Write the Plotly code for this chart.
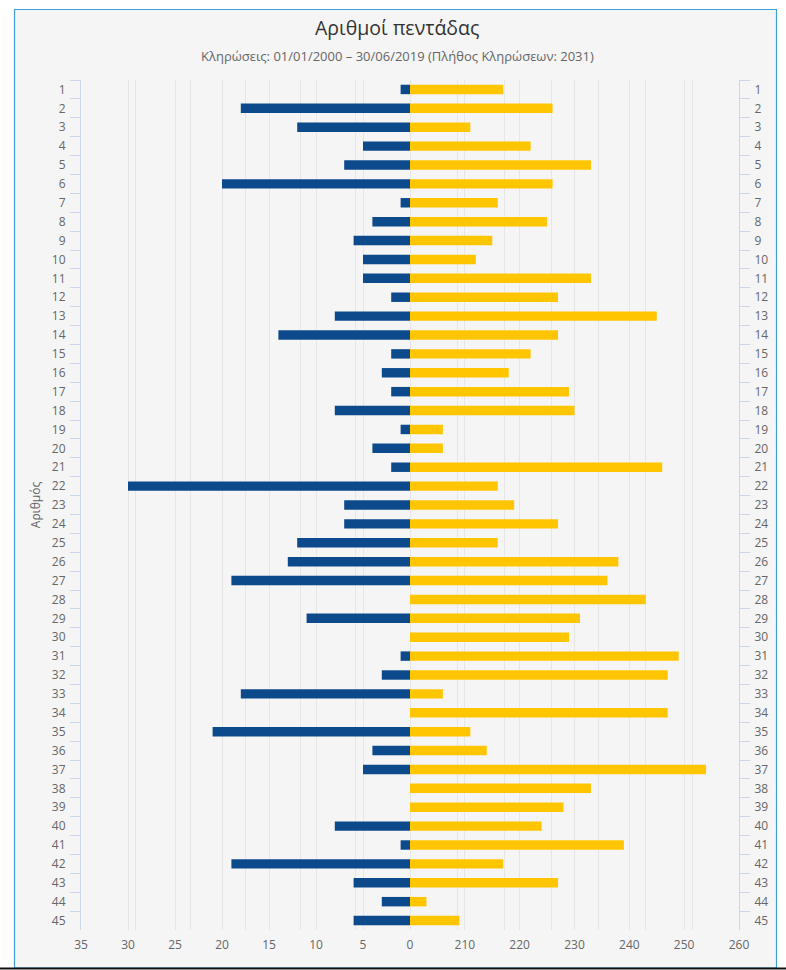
import plotly.graph_objects as go

numbers = list(range(1, 46))
left_values = [1, 18, 12, 5, 7, 20, 1, 4, 6, 5,
               5, 2, 8, 14, 2, 3, 2, 8, 1, 4,
               2, 30, 7, 7, 12, 13, 19, 0, 11, 0,
               1, 3, 18, 0, 21, 4, 5, 0, 0, 8,
               1, 19, 6, 3, 6]
right_values = [217, 226, 211, 222, 233, 226, 216, 225, 215, 212,
                233, 227, 245, 227, 222, 218, 229, 230, 206, 206,
                246, 216, 219, 227, 216, 238, 236, 243, 231, 229,
                249, 247, 206, 247, 211, 214, 254, 233, 228, 224,
                239, 217, 227, 203, 209]
right_base = 200

left_tickvals = [35, 30, 25, 20, 15, 10, 5, 0, -5, -10, -15, -20, -25, -30, -35]
left_ticktext = ["35", "30", "25", "20", "15", "10", "5", "0", "", "", "", "", "", "", ""]
right_tickvals = [140, 150, 160, 170, 180, 190, 200, 210, 220, 230, 240, 250, 260]
right_ticktext = ["", "", "", "", "", "", "", "210", "220", "230", "240", "250", "260"]

title_text = "Αριθμοί πεντάδας"
subtitle_text = "Κληρώσεις: 01/01/2000 – 30/06/2019 (Πλήθος Κληρώσεων: 2031)"
yaxis_title = "Αριθμός"

cats = [str(n) for n in numbers]
FONT = "Open Sans"
W, H = 786, 970
ML, MR, MT, MB = 81, 47, 80, 40
PW = W - ML - MR
PH = H - MT - MB


def px_x(px):
    return (px - ML) / PW


def px_y(py):
    return (H - MB - py) / PH


fig = go.Figure()
fig.add_trace(go.Bar(
    y=cats, x=left_values, orientation="h",
    marker=dict(color="#0d4a8c", line=dict(width=0)),
    width=0.5, xaxis="x", yaxis="y", name="left",
))
fig.add_trace(go.Bar(
    y=cats, x=[v - right_base for v in right_values], base=right_base,
    orientation="h",
    marker=dict(color="#ffc600", line=dict(width=0)),
    width=0.5, xaxis="x2", yaxis="y2", name="right",
))

axis_font = dict(family=FONT, size=12, color="#666666")

fig.update_layout(
    width=W, height=H,
    margin=dict(l=ML, r=MR, t=MT, b=MB, pad=0),
    paper_bgcolor="white",
    plot_bgcolor="rgba(0,0,0,0)",
    showlegend=False,
    bargap=0.5,
    font=dict(family=FONT),
    xaxis=dict(
        range=[35, -35], tickmode="array", tickvals=left_tickvals,
        ticktext=left_ticktext, showgrid=True, gridcolor="#e6e6e6",
        gridwidth=1, zeroline=False, showline=False, ticks="",
        tickfont=axis_font, ticklabelstandoff=6, fixedrange=True,
    ),
    xaxis2=dict(
        range=[140, 260], overlaying="x", side="bottom", tickmode="array",
        tickvals=right_tickvals, ticktext=right_ticktext, showgrid=True,
        gridcolor="#e6e6e6", gridwidth=1, zeroline=False, showline=False,
        ticks="", tickfont=axis_font, ticklabelstandoff=6,
    ),
    yaxis=dict(
        type="category", categoryorder="array", categoryarray=cats,
        range=[44.5, -0.5], showgrid=False, zeroline=False,
        showline=True, linecolor="#ccd6eb", linewidth=1,
        ticks="outside", tickson="boundaries", ticklen=10,
        tickcolor="#ccd6eb", tickwidth=1, tickfont=axis_font,
        ticklabelstandoff=12,
        title=dict(text=yaxis_title, font=dict(family=FONT, size=12, color="#666666"), standoff=8),
    ),
    yaxis2=dict(
        type="category", categoryorder="array", categoryarray=cats,
        range=[44.5, -0.5], overlaying="y", side="right", showgrid=False,
        zeroline=False, showline=True, linecolor="#ccd6eb", linewidth=1,
        ticks="outside", tickson="boundaries", ticklen=10,
        tickcolor="#ccd6eb", tickwidth=1, tickfont=axis_font,
        ticklabelstandoff=12,
    ),
    shapes=[
        dict(type="rect", xref="paper", yref="paper",
             x0=px_x(14.5), x1=px_x(776.5), y0=px_y(968), y1=px_y(9.5),
             fillcolor="#f5f5f5", line=dict(color="#3d9fd6", width=1.2),
             layer="below"),
        dict(type="line", xref="paper", yref="paper",
             x0=px_x(0), x1=px_x(786), y0=px_y(968.5), y1=px_y(968.5),
             line=dict(color="#111111", width=2), layer="above"),
    ],
    annotations=[
        dict(text=title_text, xref="paper", yref="paper",
             x=px_x(397), y=px_y(27), xanchor="center", yanchor="middle",
             showarrow=False, font=dict(family=FONT, size=19.5, color="#333333")),
        dict(text=subtitle_text, xref="paper", yref="paper",
             x=px_x(397), y=px_y(56), xanchor="center", yanchor="middle",
             showarrow=False, font=dict(family=FONT, size=13, color="#666666")),
    ],
)

fig.write_html("out.html")
